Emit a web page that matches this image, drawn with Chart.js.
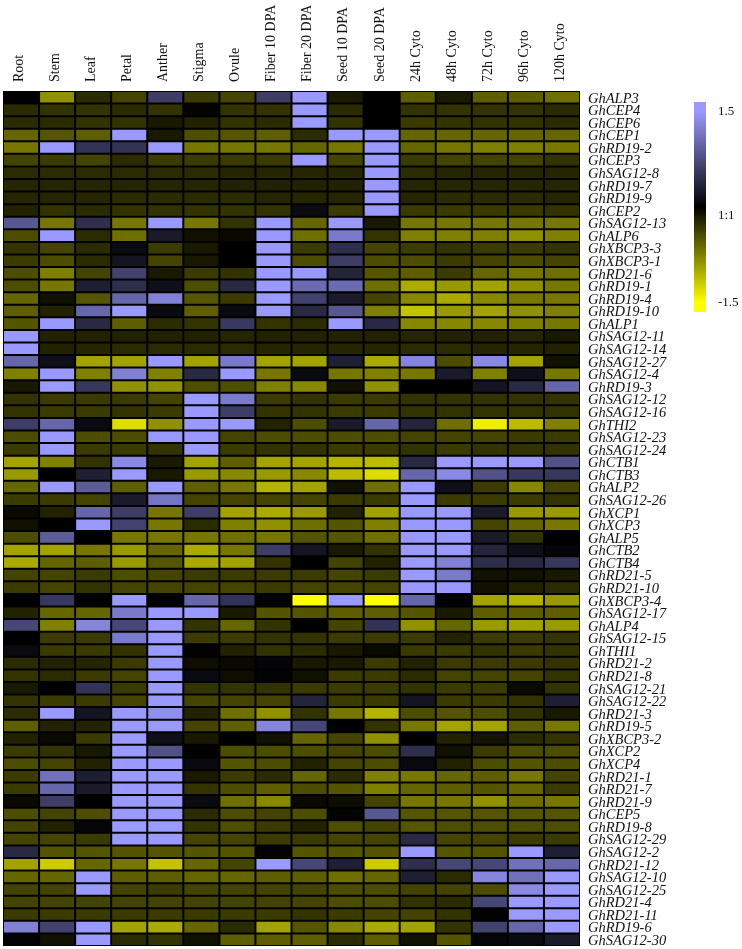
<!DOCTYPE html>
<html>
<head>
<meta charset="utf-8">
<title>Gene expression heatmap</title>
<script src="https://cdn.jsdelivr.net/npm/chart.js@4"></script>
<style>
    body { margin: 0; background: #fff; }
    #wrap { position: relative; width: 742px; height: 949px; overflow: hidden; }
    #heatmap { position: absolute; left: 0; top: 0; }
    #colorbar { position: absolute; left: 694px; top: 90px; }
</style>
</head>
<body>
<div id="wrap">
    <canvas id="heatmap" width="742" height="949"></canvas>
    <canvas id="colorbar" width="48" height="235"></canvas>
</div>
<script>
const tissues = ['Root', 'Stem', 'Leaf', 'Petal', 'Anther', 'Stigma', 'Ovule', 'Fiber 10 DPA', 'Fiber 20 DPA',
    'Seed 10 DPA', 'Seed 20 DPA', '24h Cyto', '48h Cyto', '72h Cyto', '96h Cyto', '120h Cyto'];

const genes = ['GhALP3', 'GhCEP4', 'GhCEP6', 'GhCEP1', 'GhRD19-2', 'GhCEP3', 'GhSAG12-8', 'GhRD19-7', 'GhRD19-9', 'GhCEP2',
    'GhSAG12-13', 'GhALP6', 'GhXBCP3-3', 'GhXBCP3-1', 'GhRD21-6', 'GhRD19-1', 'GhRD19-4', 'GhRD19-10', 'GhALP1', 'GhSAG12-11',
    'GhSAG12-14', 'GhSAG12-27', 'GhSAG12-4', 'GhRD19-3', 'GhSAG12-12', 'GhSAG12-16', 'GhTHI2', 'GhSAG12-23', 'GhSAG12-24', 'GhCTB1',
    'GhCTB3', 'GhALP2', 'GhSAG12-26', 'GhXCP1', 'GhXCP3', 'GhALP5', 'GhCTB2', 'GhCTB4', 'GhRD21-5', 'GhRD21-10',
    'GhXBCP3-4', 'GhSAG12-17', 'GhALP4', 'GhSAG12-15', 'GhTHI1', 'GhRD21-2', 'GhRD21-8', 'GhSAG12-21', 'GhSAG12-22', 'GhRD21-3',
    'GhRD19-5', 'GhXBCP3-2', 'GhXCP2', 'GhXCP4', 'GhRD21-1', 'GhRD21-7', 'GhRD21-9', 'GhCEP5', 'GhRD19-8', 'GhSAG12-29',
    'GhSAG12-2', 'GhRD21-12', 'GhSAG12-10', 'GhSAG12-25', 'GhRD21-4', 'GhRD21-11', 'GhRD19-6', 'GhSAG12-30'];

// one row per gene (log ratio, -1.5 yellow .. 1.5 blue)
const expression = [
    [0,-.85,-.25,-.4,.6,-.35,-.4,.6,1.5,-.15,0,-.55,-.15,-.55,-.55,-.65],
    [-.25,-.3,-.3,-.25,-.3,-.02,-.3,-.3,1.5,-.25,0,-.3,-.3,-.3,-.3,-.25],
    [-.25,-.25,-.3,-.3,-.15,-.2,-.3,-.25,1.5,-.3,0,-.35,-.3,-.3,-.3,-.25],
    [-.6,-.5,-.55,1.5,-.15,-.45,-.5,-.55,-.25,1.5,1.5,-.6,-.6,-.6,-.6,-.6],
    [-.7,1.5,.5,.5,1.5,-.7,-.7,-.7,-.6,-.7,1.5,-.6,-.7,-.75,-.75,-.7],
    [-.4,-.35,-.4,-.25,-.35,-.35,-.35,-.35,1.5,-.4,1.5,-.35,-.4,-.4,-.4,-.3],
    [-.25,-.25,-.25,-.25,-.25,-.25,-.22,-.22,-.22,-.22,1.5,-.25,-.22,-.22,-.22,-.22],
    [-.22,-.22,-.22,-.22,-.22,-.22,-.2,-.2,-.2,-.2,1.5,-.22,-.22,-.22,-.22,-.22],
    [-.22,-.22,-.22,-.25,-.25,-.25,-.25,-.22,-.22,-.22,1.5,-.22,-.25,-.25,-.25,-.22],
    [-.2,-.3,-.25,-.3,-.3,-.3,-.3,-.3,.1,-.35,1.5,-.35,-.35,-.35,-.35,-.3],
    [.85,-.7,.45,-.7,1.5,-.7,-.3,1.5,-.6,1.5,-.15,-.7,-.7,-.7,-.7,-.7],
    [-.45,1.5,-.25,-.65,.25,-.1,-.05,1.5,-.65,1.2,-.3,-.75,-.75,-.75,-.85,-.75],
    [-.3,-.4,-.25,.1,-.35,-.15,0,1.5,-.35,.45,-.4,-.35,-.3,-.35,-.35,-.3],
    [-.35,-.45,-.25,.2,-.4,-.15,0,1.5,-.45,.6,-.45,-.45,-.35,-.4,-.45,-.4],
    [-.45,-.75,-.4,.65,-.15,-.35,-.3,1.5,1.5,.35,-.5,-.55,-.35,-.6,-.7,-.65],
    [-.45,-.7,.3,.45,.15,-.45,.4,1.5,1.05,1.05,-.65,-1,-.9,-.95,-.85,-.7],
    [-.6,-.1,-.5,1,1.25,-.5,-.35,1.5,.65,.25,-.4,-.8,-1,-.8,-.7,-.7],
    [-.55,-.2,1,1.5,.1,-.55,.1,1.5,.4,.85,-.75,-1.15,-.9,-.95,-.85,-.75],
    [-.5,1.5,.4,-.55,-.25,-.3,.55,-.3,-.25,1.5,.4,-.8,-.8,-.8,-.75,-.7],
    [1.5,-.2,-.2,-.2,-.2,-.2,-.22,-.2,-.2,-.2,-.2,-.22,-.2,-.2,-.22,-.15],
    [1.5,-.2,-.22,-.25,-.25,-.25,-.25,-.22,-.22,-.22,-.22,-.25,-.25,-.22,-.22,-.2],
    [1,.15,-.95,-.95,1.5,-.95,1.2,-.95,-.95,.3,-1,1.3,-.45,1.35,-.95,-.1],
    [-.75,1.5,-.75,1.25,-.75,.4,1.5,-.7,.1,-.7,-.75,-.7,.25,-.75,.15,-.7],
    [-.15,1.5,.55,-.85,-.85,-.45,-.45,-.75,-.8,-.1,-.85,0,0,.2,.4,1],
    [-.3,-.35,-.35,-.35,-.4,1.5,1.2,-.35,-.3,-.35,-.35,-.3,-.3,-.3,-.3,-.3],
    [-.3,-.35,-.35,-.3,-.35,1.5,.6,-.3,-.3,-.35,-.35,-.3,-.3,-.3,-.3,-.3],
    [.6,1,.1,-1.3,-.85,1.5,1.5,-.2,-.45,.25,1,.35,-.65,-1.4,-1.1,-.75],
    [-.45,1.5,-.45,-.45,1.5,1.5,-.4,-.45,-.45,-.45,-.45,-.4,-.4,-.4,-.35,-.35],
    [-.35,1.5,-.35,-.35,-.3,1.5,-.35,-.3,-.3,-.35,-.35,-.3,-.35,-.3,-.3,-.3],
    [-.95,-.75,-.3,1.35,-.15,-.95,-.55,-.95,-.95,-1.05,-1.1,.4,1.5,1.5,1.5,.8],
    [-.9,0,.3,1.5,-.15,-.9,-.8,-.9,-.8,-1.1,-1.3,1,1.35,.8,.55,.55],
    [-.6,1.5,.9,-.55,1.5,-.55,-.7,-1.05,-.95,-.1,-.65,1.5,.15,-.35,-.8,-.4],
    [-.35,-.35,-.4,.25,1.15,-.4,-.4,-.4,-.4,-.35,-.35,1.5,-.35,-.35,-.35,-.3],
    [-.05,-.2,1,.6,-.7,.6,-.95,-1,-.9,-.2,-.95,1.5,1.5,.25,-.9,-.9],
    [-.1,0,1.5,.65,-.7,-.25,-.75,-.85,-.65,-.5,-.75,1.5,1.5,-.4,-.6,-.7],
    [-.45,.9,0,-.7,-.7,-.7,-.65,-.7,-.5,-.5,-.65,1.5,1.5,.25,-.3,0],
    [-.95,-.95,-.7,-.9,-.6,-1,-.7,.6,.2,-.15,-.3,1.5,1.5,.35,.15,.05],
    [-1,-.6,-.55,-.9,-.5,-1,-.95,-.3,0,-.4,-.2,1.5,1.25,.45,.4,.55],
    [-.4,-.4,-.35,-.45,-.4,-.35,-.35,-.35,-.35,-.4,-.35,1.5,1.2,-.1,-.1,-.15],
    [-.35,-.4,-.3,-.4,-.4,-.4,-.4,-.35,-.4,-.4,-.4,1.5,1.5,-.1,-.2,-.25],
    [0,.55,0,1.5,0,1,.5,.03,-1.5,1.5,-1.5,1,0,-.95,-1.05,-.9],
    [-.2,-.6,-.6,1.2,1.5,1.5,-.15,-.5,-.5,-.55,-.55,-.5,-.15,-.55,-.55,-.55],
    [.7,-.75,1.3,.7,1.5,-.3,-.6,-.3,0,-.4,.5,-.85,-.6,-.9,-.95,-.9],
    [0,-.35,-.35,1.2,1.5,-.35,-.35,-.3,-.3,-.35,-.35,-.35,-.2,-.35,-.35,-.3],
    [.1,-.35,-.35,-.3,1.5,.02,-.2,-.3,-.25,-.15,-.05,-.35,-.35,-.3,-.35,-.3],
    [-.25,-.2,-.22,-.35,1.5,-.08,-.05,.05,-.15,-.15,-.35,-.2,-.35,-.35,-.35,-.3],
    [-.3,-.25,-.35,-.4,1.5,.1,-.08,.03,-.1,-.35,-.35,-.25,-.4,-.4,-.4,-.3],
    [-.15,0,.5,-.35,1.5,-.3,-.3,-.3,-.35,-.35,-.35,-.3,-.35,-.35,-.05,-.3],
    [-.3,-.35,-.35,-.4,1.5,-.4,-.4,-.4,.35,-.35,-.35,.2,-.35,-.35,-.3,.3],
    [-.25,1.5,.2,1.5,1.4,-.2,-.65,-.85,-.3,-.7,-1.05,-.45,-.5,-.45,-.3,-.15],
    [-.55,-.2,-.2,1.5,1.5,-.4,-.55,1.3,.7,0,-.3,-.7,-.95,-.95,-.55,-.7],
    [-.2,-.05,-.35,1.5,.15,-.15,0,-.1,-.6,-.4,-.85,0,-.2,-.12,-.25,-.3],
    [-.35,-.3,-.15,1.5,.8,.02,-.45,-.45,-.45,-.4,-.45,.45,-.1,-.35,-.45,-.45],
    [-.45,-.4,-.2,1.5,1.5,.08,-.5,-.45,-.2,-.4,-.45,.08,-.2,-.45,-.5,-.45],
    [-.35,1.1,.3,1.5,1.5,-.15,-.35,-.25,-.6,-.25,-.75,-.7,-.6,-.55,-.7,-.4],
    [-.35,1,.25,1.5,1.5,-.3,-.45,-.55,-.45,-.5,-.75,-.6,-.55,-.5,-.6,-.35],
    [-.05,.6,0,1.5,1.5,.1,-.65,-.8,-.05,-.08,-.4,-.7,-.7,-.85,-.65,-.7],
    [-.45,-.4,-.45,1.5,1.5,-.25,-.45,-.4,-.45,-.02,.85,-.5,-.5,-.5,-.5,-.5],
    [-.4,-.2,.05,1.5,1.5,-.3,-.45,-.35,-.2,-.45,-.4,-.5,-.45,-.45,-.45,-.45],
    [-.4,-.4,-.35,1.5,1.5,-.4,-.4,-.35,-.35,-.4,-.4,.4,-.4,-.4,-.35,-.35],
    [.4,-.5,-.5,-.5,-.5,-.5,-.5,.03,-.5,-.5,-.5,1.5,-.5,-.5,1.5,.3],
    [-.95,-1.2,-.6,-.7,-1.15,-.6,-.4,1.5,.7,.3,-1.2,.45,.7,.7,1.1,1],
    [-.6,-.6,1.5,-.55,-.55,-.6,-.6,-.55,-.55,-.65,-.6,.3,-.25,1.3,1.1,1.5],
    [-.4,-.4,1.5,-.4,-.35,-.4,-.4,-.4,-.4,-.45,-.45,-.4,-.4,-.45,1.35,1.5],
    [-.4,-.4,-.4,-.4,-.4,-.4,-.4,-.4,-.4,-.45,-.45,-.3,-.25,.7,1.5,1.5],
    [-.35,-.35,-.35,-.35,-.35,-.35,-.35,-.35,-.3,-.35,-.4,-.4,-.3,.02,1.5,1.5],
    [1.25,.65,1.5,-.95,-1,-.6,-.25,-.95,-.5,-.8,-1,-.95,-.3,.65,1,1.5],
    [.03,-.1,1.5,-.25,-.3,-.1,-.55,-.55,-.55,-.25,-.55,-.1,-.5,.05,.1,.25]
];

const legendTicks = [1.5, -0.13, -1.5];
const legendLabels = ['1.5', '1:1', '-1.5'];
const legendRange = [-1.65, 1.65];

// black at 0, blue above, yellow below
function cellColor(v) {
    const t = Math.min(Math.abs(v) / 1.5, 1);
    if (v >= 0) return `rgb(${Math.round(153 * t)},${Math.round(153 * t)},${Math.round(255 * t)})`;
    return `rgb(${Math.round(255 * t)},${Math.round(255 * t)},0)`;
}

// black behind the cells so the gaps between them stay dark
const plotBackground = {
    id: 'plotBackground',
    beforeDatasetsDraw(chart) {
        const { ctx, chartArea } = chart;
        ctx.save();
        ctx.fillStyle = '#000';
        ctx.fillRect(chartArea.left, chartArea.top, chartArea.width, chartArea.height);
        ctx.restore();
    }
};

const heatCtx = document.getElementById('heatmap').getContext('2d');
new Chart(heatCtx, {
    type: 'bar',
    plugins: [plotBackground],
    data: {
        labels: genes,
        datasets: tissues.map((name, col) => ({
            label: name,
            data: genes.map(() => 1),
            backgroundColor: expression.map(row => cellColor(row[col])),
            borderColor: '#000',
            borderWidth: 1,
            borderSkipped: false,
            inflateAmount: 0,
            categoryPercentage: 1,
            barPercentage: 1
        }))
    },
    options: {
        indexAxis: 'y',
        responsive: false,
        animation: false,
        layout: { padding: { left: 3, top: 0, right: 0, bottom: 3 } },
        plugins: { legend: { display: false }, tooltip: { enabled: false } },
        scales: {
            x: {
                type: 'linear',
                position: 'top',
                stacked: true,
                min: 0,
                max: tissues.length,
                grid: { display: false, drawTicks: false },
                border: { display: false },
                afterBuildTicks: axis => { axis.ticks = tissues.map((t, i) => ({ value: i + 0.5 })); },
                afterFit: axis => {
                    axis.height = 91;
                    axis.paddingLeft = 0;
                    axis.paddingRight = 0;
                },
                ticks: {
                    autoSkip: false,
                    minRotation: 90,
                    maxRotation: 90,
                    padding: 9,
                    labelOffset: 15,
                    color: '#111',
                    font: { family: '"Liberation Serif"', size: 14 },
                    callback: value => tissues[value - 0.5]
                }
            },
            y: {
                type: 'category',
                position: 'right',
                stacked: true,
                grid: { display: false, drawTicks: false },
                border: { display: false },
                afterFit: axis => {
                    axis.width = 162;
                    axis.paddingTop = 0;
                    axis.paddingBottom = 0;
                },
                ticks: {
                    autoSkip: false,
                    padding: 8,
                    labelOffset: 1.5,
                    color: '#111',
                    font: { family: '"Liberation Serif"', size: 14.5, style: 'italic' }
                }
            }
        }
    }
});

// colour key, same colour function along a gradient
function keyGradient(context) {
    const { ctx, chartArea, scales } = context.chart;
    if (!chartArea) return '#000';
    const top = scales.y.getPixelForValue(1.5);
    const bottom = scales.y.getPixelForValue(-1.5);
    const g = ctx.createLinearGradient(0, top, 0, bottom);
    [1.5, 1, 0.5, 0, -0.5, -1, -1.5].forEach(v => g.addColorStop((1.5 - v) / 3, cellColor(v)));
    return g;
}

new Chart(document.getElementById('colorbar').getContext('2d'), {
    type: 'bar',
    data: {
        labels: ['key'],
        datasets: [{
            data: [legendRange],
            backgroundColor: keyGradient,
            categoryPercentage: 1,
            barPercentage: 1
        }]
    },
    options: {
        responsive: false,
        animation: false,
        layout: { padding: { left: 0, top: 12, right: 0, bottom: 13 } },
        plugins: { legend: { display: false }, tooltip: { enabled: false } },
        scales: {
            x: { display: false },
            y: {
                position: 'right',
                min: legendRange[0],
                max: legendRange[1],
                grid: { display: false, drawTicks: false },
                border: { display: false },
                afterBuildTicks: axis => { axis.ticks = legendTicks.map(v => ({ value: v })); },
                afterFit: axis => {
                    axis.width = 36;
                    axis.paddingTop = 0;
                    axis.paddingBottom = 0;
                },
                ticks: {
                    padding: 12,
                    color: '#111',
                    font: { family: '"Liberation Serif"', size: 13 },
                    callback: value => legendLabels[legendTicks.indexOf(value)]
                }
            }
        }
    }
});
</script>
</body>
</html>
